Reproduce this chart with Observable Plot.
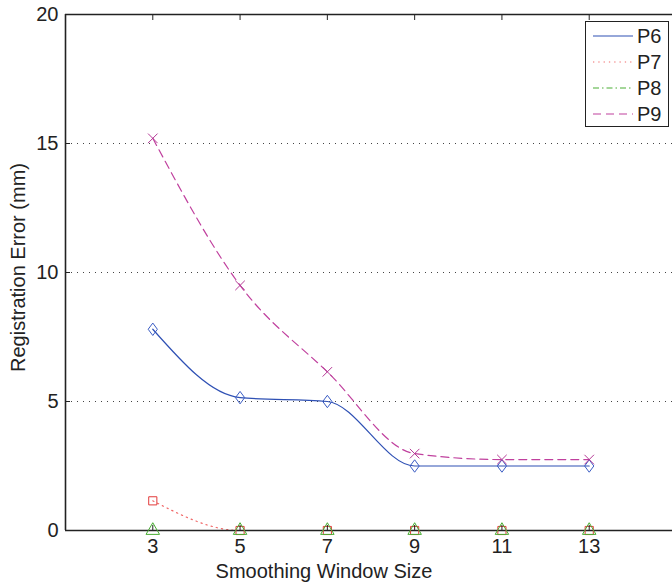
<!DOCTYPE html>
<html>
<head>
<meta charset="utf-8">
<script src="https://cdn.jsdelivr.net/npm/d3@7"></script>
<script src="https://cdn.jsdelivr.net/npm/@observablehq/plot@0.6"></script>
<style>
  html, body { margin: 0; padding: 0; background: #fff; }
  #wrap { position: relative; width: 672px; height: 587px; overflow: hidden; font-family: "Liberation Sans", Arial, sans-serif; }
  #legend { position: absolute; left: 585px; top: 21px; width: 84px; height: 106px; border: 1.2px solid #222; background: #fff; box-sizing: border-box; }
  #legend svg { display: block; }
</style>
</head>
<body>
<div id="wrap"></div>
<script>
// ---- data ----
const windowSizes = [3, 5, 7, 9, 11, 13];
const seriesNames = ["P6", "P7", "P8", "P9"];
const p6 = [7.8, 5.15, 5.0, 2.5, 2.5, 2.5];
const p7 = [1.15, 0, 0, 0, 0, 0];
const p8 = [0, 0, 0, 0, 0, 0];
const p9 = [15.2, 9.5, 6.15, 2.98, 2.75, 2.75];
const yTicks = [0, 5, 10, 15, 20];
const yGrid = [5, 10, 15];
const xLabel = "Smoothing Window Size";
const yLabel = "Registration Error (mm)";

// MATLAB-like tall diamond
const tallDiamond = {
  draw(context, size) {
    const r = Math.sqrt(size / Math.PI);
    const h = r * 1.35, w = r * 1.0;
    context.moveTo(0, -h);
    context.lineTo(w, 0);
    context.lineTo(0, h);
    context.lineTo(-w, 0);
    context.closePath();
  }
};

const seriesValues = {P6: p6, P7: p7, P8: p8, P9: p9};
const style = {
  P6: {line: "#2e50b4", mark: "#3a5cc4", dash: null, symbol: tallDiamond, r: 4.6},
  P7: {line: "#f06a6a", mark: "#e23a3a", dash: "1.3,4", symbol: "square", r: 4.6},
  P8: {line: "#4aae34", mark: "#46ac30", dash: "6,3,1.5,3", symbol: "triangle", r: 5},
  P9: {line: "#c0409e", mark: "#b53a96", dash: "8,5", symbol: "times", r: 4.4}
};
const rows = seriesNames.flatMap(s => windowSizes.map((w, i) => ({series: s, x: w, y: seriesValues[s][i]})));

const drawOrder = ["P7", "P6", "P9", "P8"];
const marks = [
  Plot.ruleY(yGrid, {stroke: "#444", strokeDasharray: "1,5", strokeWidth: 1})
];
for (const s of drawOrder) {
  const d = rows.filter(r => r.series === s);
  marks.push(Plot.line(d, {x: "x", y: "y", curve: "monotone-x", stroke: style[s].line, strokeWidth: 1.2, strokeDasharray: style[s].dash}));
}
marks.push(Plot.ruleY([0], {stroke: "#222", strokeWidth: 1.6}));
marks.push(Plot.ruleY([20], {stroke: "#222", strokeWidth: 1.6}));
marks.push(Plot.ruleX([1], {stroke: "#222", strokeWidth: 1.6}));
for (const s of drawOrder) {
  const d = rows.filter(r => r.series === s);
  marks.push(Plot.dot(d, {x: "x", y: "y", symbol: () => style[s].symbol, r: style[s].r, stroke: style[s].mark, fill: "none", strokeWidth: 1}));
}
marks.push(
  Plot.axisX(windowSizes, {anchor: "bottom", tickSize: 0, tickPadding: 8, fontSize: 20, label: null, fill: "#222"}),
  Plot.axisX(windowSizes, {anchor: "bottom", tickSize: -5, tickFormat: () => "", label: null, stroke: "#222"}),
  Plot.axisX(windowSizes, {anchor: "top", tickSize: -5, tickFormat: () => "", label: null, stroke: "#222"}),
  Plot.axisY(yTicks, {anchor: "left", tickSize: 0, tickPadding: 7, fontSize: 20, label: null, fill: "#222"}),
  Plot.axisY(yTicks, {anchor: "left", tickSize: -5, tickFormat: () => "", label: null, stroke: "#222"}),
  Plot.text([xLabel], {frameAnchor: "bottom", textAnchor: "middle", lineAnchor: "middle", dx: -45, dy: 41, fontSize: 20, fill: "#222", text: d => d}),
  Plot.text([yLabel], {frameAnchor: "left", textAnchor: "middle", rotate: -90, dx: -47, dy: -5, fontSize: 20, fill: "#222", text: d => d})
);

const chart = Plot.plot({
  width: 672,
  height: 587,
  marginLeft: 65,
  marginRight: 0,
  marginTop: 14,
  marginBottom: 57,
  style: {fontFamily: "'Liberation Sans', Arial, sans-serif", fontSize: "20px", color: "#222", background: "#fff", overflow: "visible"},
  x: {domain: [1, 15], range: [65, 676]},
  y: {domain: [0, 20], range: [530, 14]},
  marks
});
const wrap = document.getElementById("wrap");
wrap.appendChild(chart);

// ---- legend ----
const legend = document.createElement("div");
legend.id = "legend";
const ns = "http://www.w3.org/2000/svg";
const lsvg = document.createElementNS(ns, "svg");
lsvg.setAttribute("width", 82);
lsvg.setAttribute("height", 104);
seriesNames.forEach((s, i) => {
  const cy = 14 + i * 26;
  const ln = document.createElementNS(ns, "line");
  ln.setAttribute("x1", 7); ln.setAttribute("x2", 47);
  ln.setAttribute("y1", cy); ln.setAttribute("y2", cy);
  ln.setAttribute("stroke", style[s].line);
  ln.setAttribute("stroke-width", 1.2);
  if (style[s].dash) ln.setAttribute("stroke-dasharray", style[s].dash);
  lsvg.appendChild(ln);
  const tx = document.createElementNS(ns, "text");
  tx.setAttribute("x", 51); tx.setAttribute("y", cy);
  tx.setAttribute("dy", "0.35em");
  tx.setAttribute("font-size", 20);
  tx.setAttribute("fill", "#222");
  tx.setAttribute("font-family", "'Liberation Sans', Arial, sans-serif");
  tx.textContent = s;
  lsvg.appendChild(tx);
});
legend.appendChild(lsvg);
wrap.appendChild(legend);
</script>
</body>
</html>
